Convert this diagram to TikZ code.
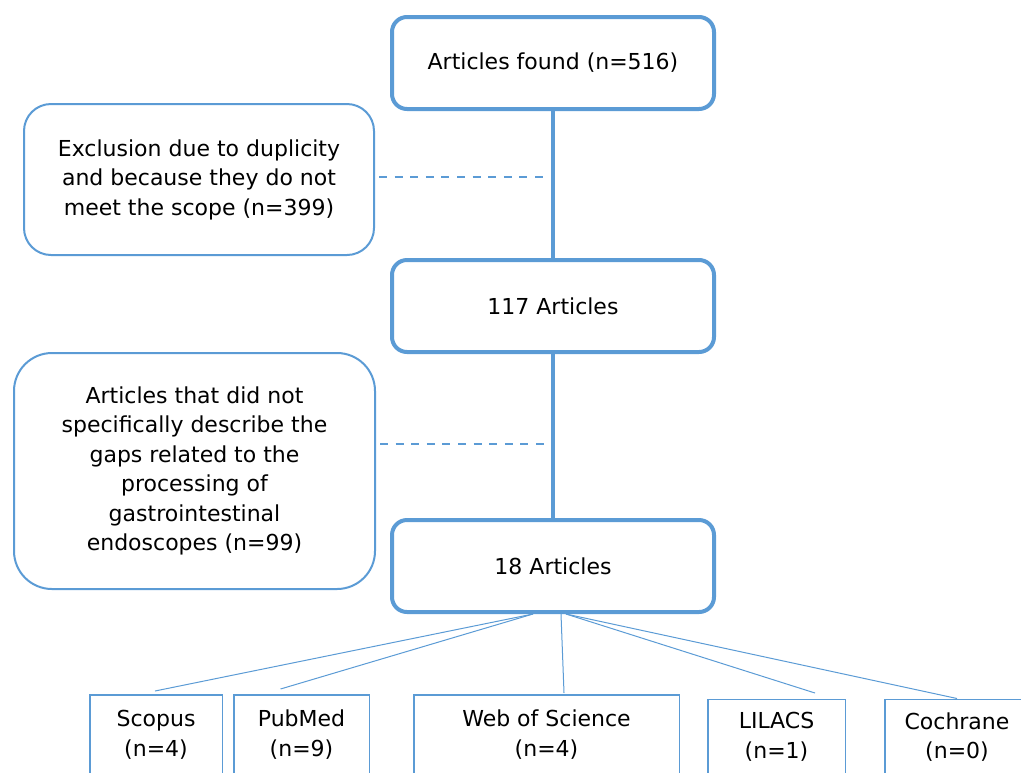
\documentclass[tikz,border=0pt]{standalone}
\usepackage{xcolor}
\usepackage{tikz}
\usepackage{fontspec}
\setmainfont{DejaVu Sans}
\definecolor{ablue}{RGB}{91,155,213}
\usetikzlibrary{positioning, calc}

\begin{document}
\begin{tikzpicture}[
    node distance=75pt,
    font=\fontsize{11}{14.75}\selectfont,
    block/.style={rectangle, draw=ablue, line width=2pt, rounded corners=7.5pt, minimum width=161pt, minimum height=46pt, text centered},
    sidenote/.style={rectangle, draw=ablue, line width=1pt, align=center},
    source/.style={rectangle, draw=ablue, line width=0.75pt, align=center, anchor=north},
    link/.style={ablue, line width=1.6pt},
    dashlink/.style={ablue, line width=1.3pt, dash pattern=on 4pt off 3.8pt, shorten <=2pt, shorten >=2pt},
    fan/.style={ablue, line width=0.5pt}
    ]
    
    \path[use as bounding box, clip] (0,0) rectangle (510.5pt,-386pt);
    
    % main chain
    \node[block] (found) at (276.5pt,-31.5pt) {Articles found (n=516)};
    \node[block] (a117) [below=73.5pt of found] {117 Articles};
    \node[block] (a18) [below=82pt of a117] {18 Articles};
    
    % exclusions
    \node[sidenote, rounded corners=13.5pt, minimum width=175pt, minimum height=75.5pt] (excl) at (99.5pt,-89.75pt)
        {Exclusion due to duplicity\\and because they do not\\meet the scope (n=399)};
    \node[sidenote, rounded corners=19pt, minimum width=180.5pt, minimum height=118pt] (gaps) at (97.25pt,-235.5pt)
        {Articles that did not\\specifically describe the\\gaps related to the\\processing of\\gastrointestinal\\endoscopes (n=99)};
    
    % databases
    \node[source, minimum width=66.25pt, minimum height=40pt] (scopus) at (78pt,-347pt) {Scopus\\(n=4)};
    \node[source, minimum width=67.75pt, minimum height=40pt] (pubmed) at (150.75pt,-347pt) {PubMed\\(n=9)};
    \node[source, minimum width=132.75pt, minimum height=40pt] (wos) at (273.25pt,-347pt) {Web of Science\\(n=4)};
    \node[source, minimum width=68.75pt, minimum height=37.75pt] (lilacs) at (388.25pt,-349.25pt) {LILACS\\(n=1)};
    \node[source, minimum width=72.25pt, minimum height=37.75pt] (cochrane) at (478.5pt,-349.25pt) {Cochrane\\(n=0)};
    
    \draw[link] (found) -- (a117);
    \draw[link] (a117) -- (a18);
    \draw[dashlink] ([yshift=1.25pt]excl.east) -- ([yshift=1.25pt]excl.east -| found.south);
    \draw[dashlink] ([yshift=13.5pt]gaps.east) -- ([yshift=13.5pt]gaps.east -| a117.south);
    
    \draw[fan] ([xshift=-10pt]a18.south) -- ([xshift=-0.5pt,yshift=1.5pt]scopus.north);
    \draw[fan] ([xshift=-10pt]a18.south) -- ([xshift=-10.5pt,yshift=2.5pt]pubmed.north);
    \draw[fan] ([xshift=4pt]a18.south) -- ([xshift=8.75pt,yshift=0.5pt]wos.north);
    \draw[fan] ([xshift=6.5pt]a18.south) -- ([xshift=19.25pt,yshift=2.75pt]lilacs.north);
    \draw[fan] ([xshift=6.5pt]a18.south) -- (cochrane.north);
    
\end{tikzpicture}
\end{document}
